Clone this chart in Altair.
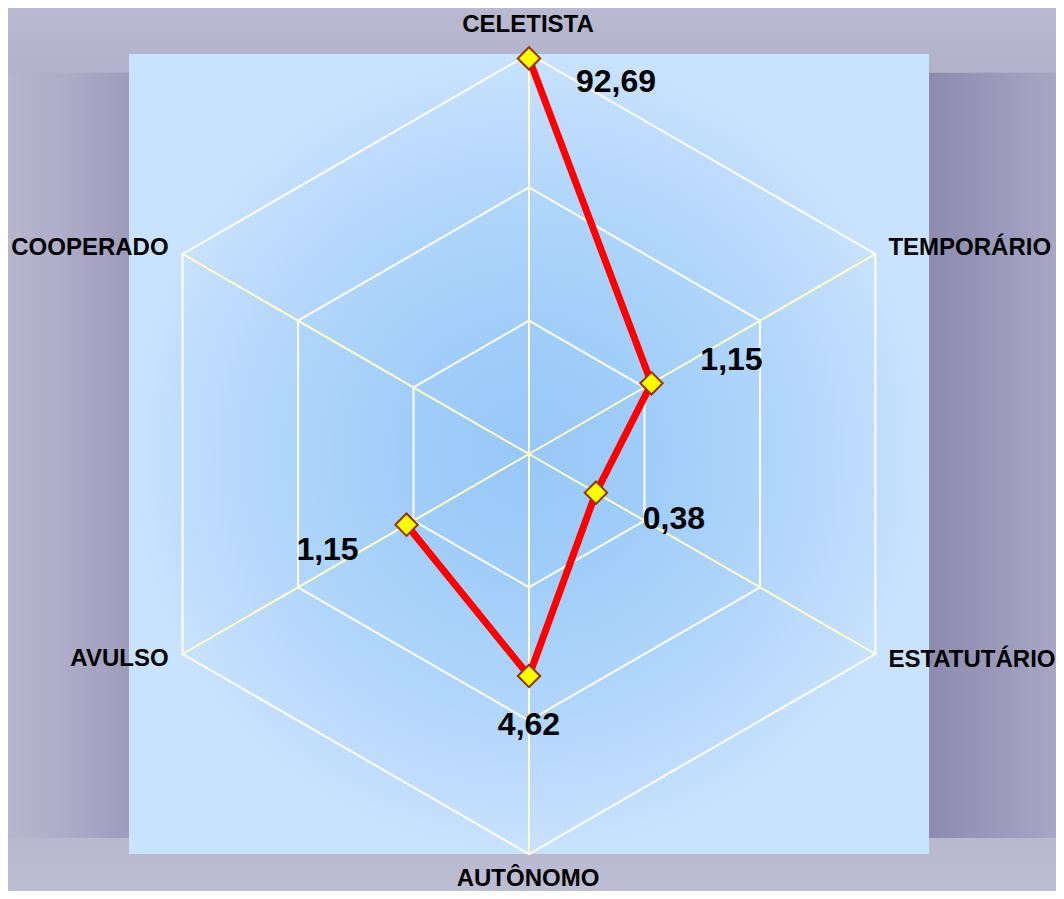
import math
import altair as alt
import pandas as pd

# ---------------- data ----------------
categories = ["CELETISTA", "TEMPORÁRIO", "ESTATUTÁRIO", "AUTÔNOMO", "AVULSO", "COOPERADO"]
values = [92.69, 1.15, 0.38, 4.62, 1.15, None]
value_labels = ["92,69", "1,15", "0,38", "4,62", "1,15", ""]
grid_levels = [1, 10, 100]
scale_min = 0.1      # value at the centre (logarithmic radial scale)
scale_max = 100      # value at the outer ring

# ---------------- derived tables ----------------
N = len(categories)
R_MAX = math.log10(scale_max / scale_min)

cats = pd.DataFrame({"cat": categories, "idx": list(range(N)),
                     "value": values, "label": value_labels})
grid = pd.DataFrame([{"level": lv, "k": k, "idx": k % N}
                     for lv in grid_levels for k in range(N + 1)])
panel = pd.DataFrame({"lo": [-R_MAX], "hi": [R_MAX]})

# ---------------- styles ----------------
W, H = 1048, 883
X_DOM = [-3.9075, 3.9525]
Y_DOM = [-3.2775, 3.345]
FONT = "Liberation Sans"

xs = alt.Scale(domain=X_DOM, nice=False, zero=False)
ys = alt.Scale(domain=Y_DOM, nice=False, zero=False)


def X(f):
    return alt.X(f, type="quantitative", scale=xs, axis=None)


def Y(f):
    return alt.Y(f, type="quantitative", scale=ys, axis=None)


def polar(ch, rexpr):
    return (ch.transform_calculate(theta=f"datum.idx * 2 * PI / {N}")
              .transform_calculate(r=rexpr)
              .transform_calculate(px="datum.r * sin(datum.theta)")
              .transform_calculate(py="datum.r * cos(datum.theta)"))


LOG_R = f"(log(datum.value) - log({scale_min})) / LN10"
LEVEL_R = f"(log(datum.level) - log({scale_min})) / LN10"

view_fill = {
    "gradient": "linear", "x1": 0, "y1": 0, "x2": 0, "y2": 1,
    "stops": [
        {"offset": 0.0, "color": "#b9b9d1"},
        {"offset": 0.07, "color": "#b2b2cc"},
        {"offset": 0.5, "color": "#b0b0ca"},
        {"offset": 0.95, "color": "#b8b8ce"},
        {"offset": 1.0, "color": "#bdbdd3"},
    ],
}

shadow_fill = {
    "gradient": "linear", "x1": 0, "y1": 0, "x2": 1, "y2": 0,
    "stops": [
        {"offset": 0.0, "color": "#b6b6ce"},
        {"offset": 0.05, "color": "#afadc9"},
        {"offset": 0.115, "color": "#9e9cbc"},
        {"offset": 0.5, "color": "#9492b4"},
        {"offset": 0.879, "color": "#8d8bae"},
        {"offset": 0.95, "color": "#9d9bbc"},
        {"offset": 1.0, "color": "#a7a7c4"},
    ],
}

panel_fill = {
    "gradient": "radial", "x1": 0.5, "y1": 0.5, "r1": 0,
    "x2": 0.5, "y2": 0.5, "r2": 0.5,
    "stops": [
        {"offset": 0.0, "color": "#99c8f8"},
        {"offset": 0.3, "color": "#a0cdf9"},
        {"offset": 0.6, "color": "#afd5fb"},
        {"offset": 0.85, "color": "#bfdcfd"},
        {"offset": 1.0, "color": "#c9e3fe"},
    ],
}

full_box = pd.DataFrame({"x0": [X_DOM[0]], "x1": [X_DOM[1]], "y0": [Y_DOM[0]], "y1": [Y_DOM[1]]})
shadow_box = pd.DataFrame({"x0": [X_DOM[0]], "x1": [X_DOM[1]], "y0": [-2.88], "y1": [2.86]})

# ---------------- layers ----------------
backdrop = alt.Chart(full_box).mark_rect(fill=view_fill).encode(
    x=X("x0"), x2="x1", y=Y("y0"), y2="y1")

shadow = alt.Chart(shadow_box).mark_rect(fill=shadow_fill).encode(
    x=X("x0"), x2="x1", y=Y("y0"), y2="y1")

bg_panel = alt.Chart(panel).mark_rect(fill=panel_fill).encode(
    x=X("lo"), x2="hi", y=Y("lo"), y2="hi")

rings = polar(alt.Chart(grid), LEVEL_R).mark_line(
    color="#ffffff", strokeWidth=2).encode(
    x=X("px"), y=Y("py"), detail="level:N", order="k:Q")

spokes = polar(alt.Chart(cats), str(R_MAX)).transform_calculate(
    zx="0").transform_calculate(zy="0").mark_rule(
    color="#ffffc4", strokeWidth=2).encode(
    x=X("zx"), y=Y("zy"), x2="px", y2="py")

valid = "isValid(datum.value) && datum.value > 0"

series_line = polar(alt.Chart(cats).transform_filter(valid), LOG_R).mark_line(
    color="#ff0000", strokeWidth=7).encode(
    x=X("px"), y=Y("py"), order="idx:Q")

markers = polar(alt.Chart(cats).transform_filter(valid), LOG_R).mark_point(
    shape="diamond", filled=True, color="#ffff00", stroke="#993300",
    strokeWidth=2, size=500, opacity=1).encode(x=X("px"), y=Y("py"))

# category labels at the outer vertices
cat_style = {
    "CELETISTA": dict(align="center", dx=-1, dy=-29),
    "TEMPORÁRIO": dict(align="left", dx=13, dy=-6),
    "ESTATUTÁRIO": dict(align="left", dx=13, dy=6),
    "AUTÔNOMO": dict(align="center", dx=-1, dy=25),
    "AVULSO": dict(align="right", dx=-14, dy=5),
    "COOPERADO": dict(align="right", dx=-14, dy=-6),
}
cat_layers = []
for c in categories:
    st = cat_style[c]
    cat_layers.append(
        polar(alt.Chart(cats).transform_filter(alt.datum.cat == c), str(R_MAX))
        .mark_text(font=FONT, fontWeight="bold", fontSize=24, color="#000000",
                   baseline="middle", **st)
        .encode(x=X("px"), y=Y("py"), text="cat:N"))

# value labels next to the markers
val_offsets = {
    "CELETISTA": (87, 24),
    "TEMPORÁRIO": (80, -23),
    "ESTATUTÁRIO": (78, 26),
    "AUTÔNOMO": (0, 49),
    "AVULSO": (-79, 25),
}
val_layers = []
for c, (ddx, ddy) in val_offsets.items():
    val_layers.append(
        polar(alt.Chart(cats).transform_filter(alt.datum.cat == c).transform_filter(valid), LOG_R)
        .mark_text(font=FONT, fontWeight="bold", fontSize=32, color="#000000",
                   align="center", baseline="middle", dx=ddx, dy=ddy)
        .encode(x=X("px"), y=Y("py"), text="label:N"))

chart = alt.layer(
    backdrop, shadow, bg_panel, rings, spokes, series_line, markers, *cat_layers, *val_layers
).properties(
    width=W, height=H,
    autosize=alt.AutoSizeParams(type="none"),
    padding=0, background="#b9b9d1",
).configure_view(stroke=None)

chart.save("out.html", embed_options={"renderer": "svg", "actions": False})
